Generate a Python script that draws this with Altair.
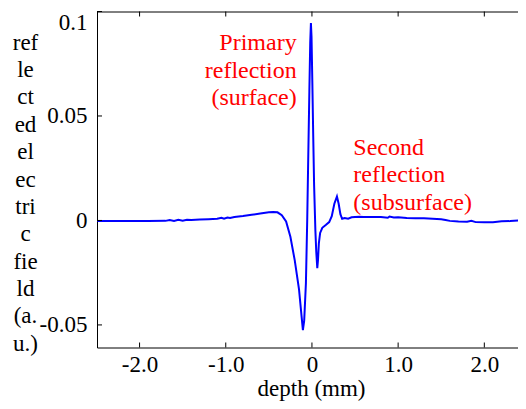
import altair as alt
import pandas as pd

# ---- data ----
depth = [-2.49, -2.2, -1.9, -1.7, -1.65, -1.6, -1.55, -1.5, -1.45, -1.4, -1.3, -1.2,
         -1.1, -1.05, -1.02, -0.98, -0.95, -0.9, -0.8, -0.7, -0.6, -0.5, -0.45, -0.4,
         -0.35, -0.3, -0.25, -0.2, -0.15, -0.12, -0.105, -0.09, -0.07, -0.055, -0.045,
         -0.03, -0.02, -0.012, -0.005, 0.005, 0.015, 0.025, 0.04, 0.05, 0.062, 0.07,
         0.08, 0.095, 0.12, 0.16, 0.2, 0.23, 0.26, 0.29, 0.31, 0.33, 0.35, 0.38, 0.42,
         0.46, 0.5, 0.55, 0.6, 0.7, 0.8, 0.88, 0.9, 0.95, 1.0, 1.1, 1.2, 1.3, 1.4, 1.5,
         1.55, 1.6, 1.7, 1.8, 1.85, 1.9, 2.0, 2.1, 2.2, 2.3, 2.4, 2.472]
field = [-0.0003, -0.0003, -0.0003, -0.0002, 0.0002, -0.0002, 0.0003, -0.0001, 0.0003,
         0.0002, 0.0004, 0.0006, 0.0008, 0.0013, 0.0008, 0.0014, 0.0012, 0.0016, 0.0021,
         0.0027, 0.0033, 0.0039, 0.0041, 0.0039, 0.0025, -0.0005, -0.0078, -0.019,
         -0.033, -0.046, -0.0525, -0.048, -0.030, 0.0, 0.025, 0.062, 0.085, 0.0945,
         0.088, 0.065, 0.040, 0.017, -0.005, -0.015, -0.0228, -0.019, -0.011, -0.006,
         -0.0035, -0.0022, -0.0008, 0.002, 0.008, 0.0115, 0.008, 0.003, 0.0008, 0.0012,
         0.0008, 0.0015, 0.0017, 0.0018, 0.0017, 0.0016, 0.0017, 0.0013, 0.0019, 0.0014,
         0.0015, 0.0012, 0.001, 0.001, 0.0008, 0.0006, 0.0002, -0.0002, -0.0005, -0.0006,
         -0.0002, -0.0008, -0.0009, -0.0009, -0.0004, -0.0003, 0.0, 0.0002]

x_ticks = [-2.0, -1.0, 0.0, 1.0, 2.0]
x_tick_labels = ["-2.0", "-1.0", "0", "1.0", "2.0"]
y_ticks = [-0.05, 0.0, 0.05, 0.1]
y_tick_labels = ["-0.05", "0", "0.05", "0.1"]

x_title = "depth (mm)"
y_title_lines = ["ref", "le", "ct", "ed", "el", "ec", "tri", "c", "fie", "ld", "(a.", "u.)"]

ann1_lines = ["Primary", "reflection", "(surface)"]
ann1_pos = (-0.177, 0.0815)
ann2_lines = ["Second", "reflection", "(subsurface)"]
ann2_pos = (0.48, 0.0315)

# ---- chart ----
W, H = 428, 336
FONT = "Liberation Serif, Times New Roman, serif"
FS = 23
AFS = 24
x_dom = [-2.494, 2.472]
y_dom = [-0.0608, 0.1]


def label_expr(vals, labels):
    expr = "''"
    for v, l in zip(vals, labels):
        expr = f"abs(datum.value - ({v})) < 1e-9 ? '{l}' : ({expr})"
    return expr


df = pd.DataFrame({"x": depth, "y": field})

xs = alt.Scale(domain=x_dom, nice=False, zero=False)
ys = alt.Scale(domain=y_dom, nice=False, zero=False)

x_axis = alt.Axis(values=x_ticks, labelExpr=label_expr(x_ticks, x_tick_labels),
                  title=x_title, grid=False, domain=False, ticks=False, tickSize=0,
                  labelFont=FONT, labelFontSize=FS, labelColor="black",
                  labelBaseline="alphabetic", labelPadding=23.5, labelFlush=False,
                  titleFont=FONT, titleFontSize=FS, titleFontWeight="normal",
                  titleColor="black", titleBaseline="alphabetic", titleY=47.8)
y_axis = alt.Axis(values=y_ticks, labelExpr=label_expr(y_ticks, y_tick_labels),
                  title=y_title_lines, grid=False, domain=False, ticks=False, tickSize=0,
                  labelFont=FONT, labelFontSize=FS, labelColor="black",
                  labelPadding=10, labelFlush=True,
                  titleFont=FONT, titleFontSize=FS, titleFontWeight="normal",
                  titleColor="black", titleAngle=0, titleAlign="center",
                  titleBaseline="alphabetic", titleLineHeight=27.4,
                  titleX=-72, titleY=37.5)

line = alt.Chart(df).mark_line(color="#0000ff", strokeWidth=2, clip=True).encode(
    x=alt.X("x:Q", scale=xs, axis=x_axis),
    y=alt.Y("y:Q", scale=ys, axis=y_axis),
)

xt_df = pd.DataFrame({"v": x_ticks})
yt_df = pd.DataFrame({"v": y_ticks})
TL = 5
xt_top = alt.Chart(xt_df).mark_rule(color="black", strokeWidth=1).encode(
    x=alt.X("v:Q", scale=xs), y=alt.value(0), y2=alt.value(TL))
xt_bot = alt.Chart(xt_df).mark_rule(color="black", strokeWidth=1).encode(
    x=alt.X("v:Q", scale=xs), y=alt.value(H), y2=alt.value(H - TL))
yt_left = alt.Chart(yt_df).mark_rule(color="black", strokeWidth=1).encode(
    y=alt.Y("v:Q", scale=ys), x=alt.value(0), x2=alt.value(TL))
yt_right = alt.Chart(yt_df).mark_rule(color="black", strokeWidth=1).encode(
    y=alt.Y("v:Q", scale=ys), x=alt.value(W), x2=alt.value(W - TL))

ann1 = alt.Chart(alt.Data(values=[{"x": ann1_pos[0], "y": ann1_pos[1], "t": ann1_lines}])).mark_text(
    align="right", baseline="alphabetic", lineHeight=27.5, font=FONT, fontSize=AFS, color="#ff0000"
).encode(x=alt.X("x:Q", scale=xs), y=alt.Y("y:Q", scale=ys), text="t:N")
ann2 = alt.Chart(alt.Data(values=[{"x": ann2_pos[0], "y": ann2_pos[1], "t": ann2_lines}])).mark_text(
    align="left", baseline="alphabetic", lineHeight=27.5, font=FONT, fontSize=AFS, color="#ff0000"
).encode(x=alt.X("x:Q", scale=xs), y=alt.Y("y:Q", scale=ys), text="t:N")

chart = alt.layer(line, xt_top, xt_bot, yt_left, yt_right, ann1, ann2).properties(
    width=W, height=H,
    padding={"left": 89, "top": 3.5, "right": -7, "bottom": 53.5},
    autosize=alt.AutoSizeParams(type="none"),
    background="white",
).configure_view(stroke="black", strokeWidth=1)

chart.save("out.html", embed_options={"renderer": "svg", "actions": False})
